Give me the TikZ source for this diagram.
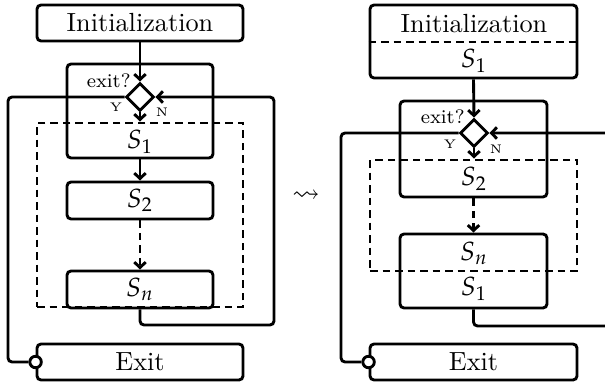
\documentclass[tikz,border=0pt]{standalone}
\usepackage{mathpazo}
\usepackage{amssymb}
\usetikzlibrary{shapes.geometric,arrows.meta,fit}
\begin{document}
\begin{tikzpicture}[x=0.4pt,y=-0.4pt,line width=1.15pt,
  font=\fontsize{10.5}{12}\selectfont,
  box/.style={draw, rounded corners=1.6pt, inner sep=0pt},
  dbox/.style={draw, dash pattern=on 3pt off 2pt, inner sep=0pt},
  dline/.style={dash pattern=on 3pt off 2pt},
  dia/.style={draw, diamond, aspect=1, minimum width=11.2pt, minimum height=11.2pt, inner sep=0pt},
  arr/.style={-{Straight Barb[length=2.2pt,width=4.6pt]}},
  lp/.style={rounded corners=1.6pt},
  txt/.style={inner sep=0pt},
  exitq/.style={font=\fontsize{7.8}{9}\selectfont, inner sep=0pt},
  yn/.style={font=\fontsize{5}{6}\selectfont, inner sep=0pt},
  dot/.style={circle, draw, fill=white, minimum size=4.6pt, inner sep=0pt}
]
\useasboundingbox (0,0) rectangle (605,385);
\clip (0,0) rectangle (605,385);

% ---------- left diagram ----------
\node[box, fit={(37,5)(243,41)}] (init1) {};
\node[txt] (t1) at (init1.center) {Initialization};
\node[box, fit={(67,64)(213,158)}] (blk1) {};
\node[dia] (d1) at (140,97) {};
\node[dbox, fit={(37,123)(243,307)}] (dash1) {};
\node[txt] (s1a) at (140,142) {$S_1$};
\node[box, fit={(67,182)(213,219)}] (s2) {};
\node[txt] (s2t) at (s2.center) {$S_2$};
\node[box, fit={(67,271)(213,308)}] (sn) {};
\node[txt] (snt1) at (sn.center) {$S_n$};
\node[box, fit={(37,344)(243,380)}] (exit1) {};
\node[txt] (e1t) at (exit1.center) {Exit};
\node[dot] (c1) at (exit1.west) {};
\node[exitq, anchor=base east] (q1) at (132,88) {exit?};
\node[yn] (y1) at (116,107) {Y};
\node[yn] (n1) at (162,112) {N};
\coordinate (r1) at (274,325);
\coordinate (l1) at (8,362);

\draw[arr] (init1.south) -- (d1.north);
\draw[arr] (d1.south) -- (d1.south |- dash1.north);
\draw[arr] (blk1.south) -- (s2.north);
\draw[arr, dline] (s2.south) -- (sn.north);
\draw[arr, lp] (sn.south) |- (r1) |- (d1.east);
\draw[lp] (d1.west) -| (l1) -- (c1.west);

% ---------- arrow between ----------
\node[txt] (sq) at (306,196) {$\rightsquigarrow$};

% ---------- right diagram ----------
\node[box, fit={(370,5)(577,78)}] (init2) {};
\node[txt] (t2) at (474,24) {Initialization};
\draw[dline] (init2.west |- 0,42) -- (init2.east |- 0,42);
\node[txt] (s1b) at (474,61) {$S_1$};
\node[box, fit={(400,101)(547,197)}] (blk2) {};
\node[dia] (d2) at (474,133) {};
\node[dbox, fit={(370,160)(577,271)}] (dash2) {};
\node[txt] (s2b) at (474,179) {$S_2$};
\node[box, fit={(400,234)(547,308)}] (snb) {};
\node[txt] (snt) at (474,253) {$S_n$};
\node[txt] (s1c) at (474,289) {$S_1$};
\node[box, fit={(370,344)(577,380)}] (exit2) {};
\node[txt] (e2t) at (exit2.center) {Exit};
\node[dot] (c2) at (exit2.west) {};
\node[exitq, anchor=base east] (q2) at (466,124) {exit?};
\node[yn] (y2) at (450,144) {Y};
\node[yn] (n2) at (496,149) {N};
\coordinate (r2) at (640,326);
\coordinate (l2) at (341,362);

\draw[arr] (init2.south) -- (d2.north);
\draw[arr] (d2.south) -- (d2.south |- dash2.north);
\draw[arr, dline] (blk2.south) -- (snb.north);
\draw[arr, lp] (snb.south) |- (r2) |- (d2.east);
\draw[lp] (d2.west) -| (l2) -- (c2.west);
\end{tikzpicture}
\end{document}
